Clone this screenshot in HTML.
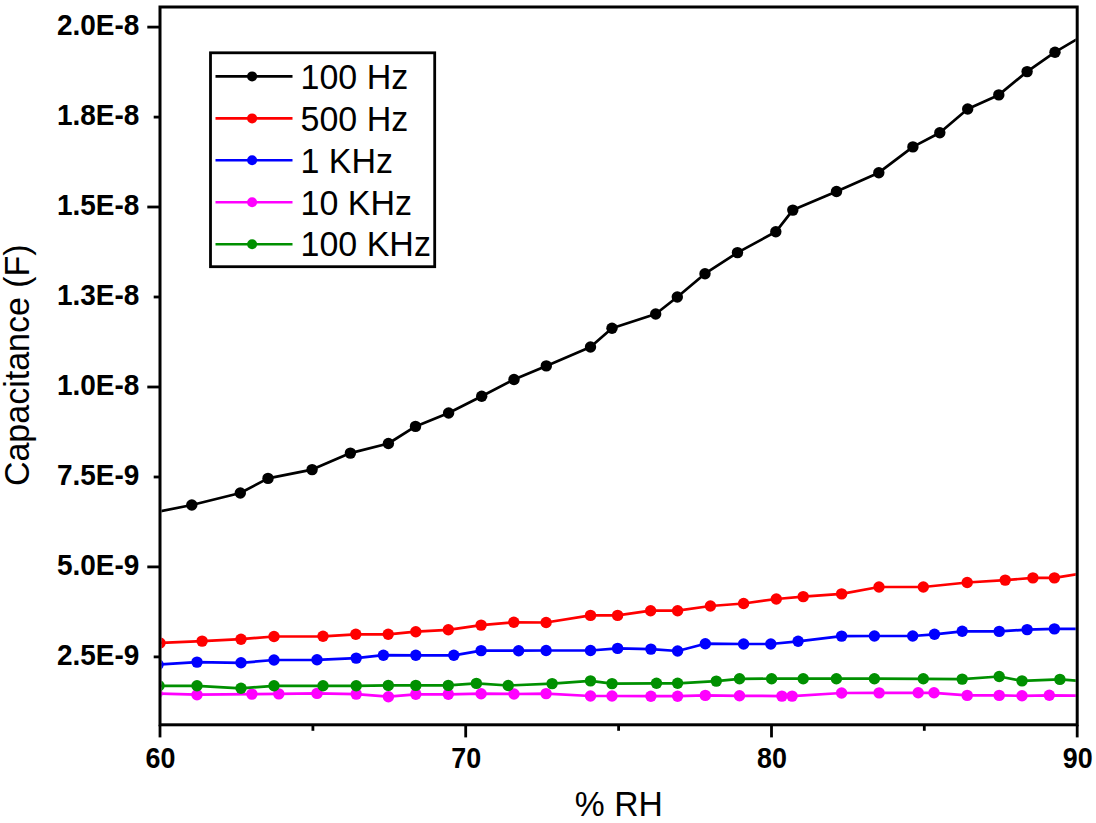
<!DOCTYPE html>
<html><head><meta charset="utf-8"><style>
html,body{margin:0;padding:0;background:#fff;overflow:hidden;}
svg{display:block;}
text{font-family:"Liberation Sans",sans-serif;fill:#000;}
.tl{font-size:28px;font-weight:bold;}
.lg{font-size:34px;}
.at{font-size:34px;}
</style></head><body>
<svg width="1096" height="823" viewBox="0 0 1096 823">
<defs><clipPath id="pc"><rect x="161.5" y="8.5" width="914.2" height="714.8"/></clipPath></defs>
<g clip-path="url(#pc)">
<polyline points="160.0,643.0 202.1,641.1 241.0,639.2 274.0,636.5 323.0,636.3 355.8,634.3 388.2,634.3 415.8,631.7 448.3,629.8 481.1,625.1 513.8,622.3 546.1,622.5 590.5,615.4 617.6,615.4 650.6,610.7 677.6,610.7 710.4,606.0 743.6,603.5 776.3,599.0 803.2,596.6 841.6,593.9 879.0,587.0 923.3,587.0 967.2,582.5 1005.2,580.1 1032.9,577.9 1054.4,577.9 1090.0,572.0" fill="none" stroke="#ff0000" stroke-width="2.7" stroke-linejoin="round"/>
<circle cx="160.0" cy="643.0" r="5.7" fill="#ff0000"/>
<circle cx="202.1" cy="641.1" r="5.7" fill="#ff0000"/>
<circle cx="241.0" cy="639.2" r="5.7" fill="#ff0000"/>
<circle cx="274.0" cy="636.5" r="5.7" fill="#ff0000"/>
<circle cx="323.0" cy="636.3" r="5.7" fill="#ff0000"/>
<circle cx="355.8" cy="634.3" r="5.7" fill="#ff0000"/>
<circle cx="388.2" cy="634.3" r="5.7" fill="#ff0000"/>
<circle cx="415.8" cy="631.7" r="5.7" fill="#ff0000"/>
<circle cx="448.3" cy="629.8" r="5.7" fill="#ff0000"/>
<circle cx="481.1" cy="625.1" r="5.7" fill="#ff0000"/>
<circle cx="513.8" cy="622.3" r="5.7" fill="#ff0000"/>
<circle cx="546.1" cy="622.5" r="5.7" fill="#ff0000"/>
<circle cx="590.5" cy="615.4" r="5.7" fill="#ff0000"/>
<circle cx="617.6" cy="615.4" r="5.7" fill="#ff0000"/>
<circle cx="650.6" cy="610.7" r="5.7" fill="#ff0000"/>
<circle cx="677.6" cy="610.7" r="5.7" fill="#ff0000"/>
<circle cx="710.4" cy="606.0" r="5.7" fill="#ff0000"/>
<circle cx="743.6" cy="603.5" r="5.7" fill="#ff0000"/>
<circle cx="776.3" cy="599.0" r="5.7" fill="#ff0000"/>
<circle cx="803.2" cy="596.6" r="5.7" fill="#ff0000"/>
<circle cx="841.6" cy="593.9" r="5.7" fill="#ff0000"/>
<circle cx="879.0" cy="587.0" r="5.7" fill="#ff0000"/>
<circle cx="923.3" cy="587.0" r="5.7" fill="#ff0000"/>
<circle cx="967.2" cy="582.5" r="5.7" fill="#ff0000"/>
<circle cx="1005.2" cy="580.1" r="5.7" fill="#ff0000"/>
<circle cx="1032.9" cy="577.9" r="5.7" fill="#ff0000"/>
<circle cx="1054.4" cy="577.9" r="5.7" fill="#ff0000"/>
<polyline points="158.0,664.6 197.0,662.1 241.0,662.8 274.0,660.0 317.0,659.8 356.2,658.1 383.4,655.2 415.8,655.3 453.8,655.3 481.1,650.6 518.6,650.7 546.1,650.5 590.5,650.5 617.6,648.4 650.9,649.1 677.6,651.0 705.3,643.7 743.6,644.0 770.8,644.0 798.1,641.3 841.6,636.1 874.4,636.0 912.7,636.0 934.5,634.3 962.2,631.3 999.2,631.4 1027.1,629.6 1054.4,628.9 1090.0,628.9" fill="none" stroke="#0000ff" stroke-width="2.7" stroke-linejoin="round"/>
<circle cx="158.0" cy="664.6" r="5.7" fill="#0000ff"/>
<circle cx="197.0" cy="662.1" r="5.7" fill="#0000ff"/>
<circle cx="241.0" cy="662.8" r="5.7" fill="#0000ff"/>
<circle cx="274.0" cy="660.0" r="5.7" fill="#0000ff"/>
<circle cx="317.0" cy="659.8" r="5.7" fill="#0000ff"/>
<circle cx="356.2" cy="658.1" r="5.7" fill="#0000ff"/>
<circle cx="383.4" cy="655.2" r="5.7" fill="#0000ff"/>
<circle cx="415.8" cy="655.3" r="5.7" fill="#0000ff"/>
<circle cx="453.8" cy="655.3" r="5.7" fill="#0000ff"/>
<circle cx="481.1" cy="650.6" r="5.7" fill="#0000ff"/>
<circle cx="518.6" cy="650.7" r="5.7" fill="#0000ff"/>
<circle cx="546.1" cy="650.5" r="5.7" fill="#0000ff"/>
<circle cx="590.5" cy="650.5" r="5.7" fill="#0000ff"/>
<circle cx="617.6" cy="648.4" r="5.7" fill="#0000ff"/>
<circle cx="650.9" cy="649.1" r="5.7" fill="#0000ff"/>
<circle cx="677.6" cy="651.0" r="5.7" fill="#0000ff"/>
<circle cx="705.3" cy="643.7" r="5.7" fill="#0000ff"/>
<circle cx="743.6" cy="644.0" r="5.7" fill="#0000ff"/>
<circle cx="770.8" cy="644.0" r="5.7" fill="#0000ff"/>
<circle cx="798.1" cy="641.3" r="5.7" fill="#0000ff"/>
<circle cx="841.6" cy="636.1" r="5.7" fill="#0000ff"/>
<circle cx="874.4" cy="636.0" r="5.7" fill="#0000ff"/>
<circle cx="912.7" cy="636.0" r="5.7" fill="#0000ff"/>
<circle cx="934.5" cy="634.3" r="5.7" fill="#0000ff"/>
<circle cx="962.2" cy="631.3" r="5.7" fill="#0000ff"/>
<circle cx="999.2" cy="631.4" r="5.7" fill="#0000ff"/>
<circle cx="1027.1" cy="629.6" r="5.7" fill="#0000ff"/>
<circle cx="1054.4" cy="628.9" r="5.7" fill="#0000ff"/>
<polyline points="157.0,693.5 197.0,694.7 251.9,694.1 278.8,693.9 317.0,693.4 356.2,694.1 388.4,696.7 415.8,694.3 448.3,694.3 481.1,693.7 514.0,694.0 546.1,693.6 590.5,696.0 612.0,696.0 650.9,696.2 677.6,696.2 705.3,695.4 739.5,695.8 781.9,696.1 792.1,696.1 841.6,693.0 879.1,692.9 918.2,692.8 934.0,692.8 967.2,695.4 999.2,695.4 1022.0,695.8 1049.3,695.3 1090.0,695.8" fill="none" stroke="#ff00ff" stroke-width="2.7" stroke-linejoin="round"/>
<circle cx="157.0" cy="693.5" r="5.7" fill="#ff00ff"/>
<circle cx="197.0" cy="694.7" r="5.7" fill="#ff00ff"/>
<circle cx="251.9" cy="694.1" r="5.7" fill="#ff00ff"/>
<circle cx="278.8" cy="693.9" r="5.7" fill="#ff00ff"/>
<circle cx="317.0" cy="693.4" r="5.7" fill="#ff00ff"/>
<circle cx="356.2" cy="694.1" r="5.7" fill="#ff00ff"/>
<circle cx="388.4" cy="696.7" r="5.7" fill="#ff00ff"/>
<circle cx="415.8" cy="694.3" r="5.7" fill="#ff00ff"/>
<circle cx="448.3" cy="694.3" r="5.7" fill="#ff00ff"/>
<circle cx="481.1" cy="693.7" r="5.7" fill="#ff00ff"/>
<circle cx="514.0" cy="694.0" r="5.7" fill="#ff00ff"/>
<circle cx="546.1" cy="693.6" r="5.7" fill="#ff00ff"/>
<circle cx="590.5" cy="696.0" r="5.7" fill="#ff00ff"/>
<circle cx="612.0" cy="696.0" r="5.7" fill="#ff00ff"/>
<circle cx="650.9" cy="696.2" r="5.7" fill="#ff00ff"/>
<circle cx="677.6" cy="696.2" r="5.7" fill="#ff00ff"/>
<circle cx="705.3" cy="695.4" r="5.7" fill="#ff00ff"/>
<circle cx="739.5" cy="695.8" r="5.7" fill="#ff00ff"/>
<circle cx="781.9" cy="696.1" r="5.7" fill="#ff00ff"/>
<circle cx="792.1" cy="696.1" r="5.7" fill="#ff00ff"/>
<circle cx="841.6" cy="693.0" r="5.7" fill="#ff00ff"/>
<circle cx="879.1" cy="692.9" r="5.7" fill="#ff00ff"/>
<circle cx="918.2" cy="692.8" r="5.7" fill="#ff00ff"/>
<circle cx="934.0" cy="692.8" r="5.7" fill="#ff00ff"/>
<circle cx="967.2" cy="695.4" r="5.7" fill="#ff00ff"/>
<circle cx="999.2" cy="695.4" r="5.7" fill="#ff00ff"/>
<circle cx="1022.0" cy="695.8" r="5.7" fill="#ff00ff"/>
<circle cx="1049.3" cy="695.3" r="5.7" fill="#ff00ff"/>
<polyline points="159.0,685.8 197.0,685.8 241.0,688.3 274.0,685.8 323.0,685.8 356.2,685.8 388.3,685.4 415.8,685.4 448.3,685.4 476.4,683.4 508.2,685.5 552.1,683.6 590.5,680.9 612.0,683.6 656.5,683.3 677.6,683.3 716.3,681.1 739.5,678.8 771.6,678.7 803.2,678.7 836.4,678.7 874.4,678.7 923.3,678.8 962.2,679.1 999.2,676.5 1022.0,680.9 1059.9,679.4 1090.0,681.5" fill="none" stroke="#009000" stroke-width="2.7" stroke-linejoin="round"/>
<circle cx="159.0" cy="685.8" r="5.7" fill="#009000"/>
<circle cx="197.0" cy="685.8" r="5.7" fill="#009000"/>
<circle cx="241.0" cy="688.3" r="5.7" fill="#009000"/>
<circle cx="274.0" cy="685.8" r="5.7" fill="#009000"/>
<circle cx="323.0" cy="685.8" r="5.7" fill="#009000"/>
<circle cx="356.2" cy="685.8" r="5.7" fill="#009000"/>
<circle cx="388.3" cy="685.4" r="5.7" fill="#009000"/>
<circle cx="415.8" cy="685.4" r="5.7" fill="#009000"/>
<circle cx="448.3" cy="685.4" r="5.7" fill="#009000"/>
<circle cx="476.4" cy="683.4" r="5.7" fill="#009000"/>
<circle cx="508.2" cy="685.5" r="5.7" fill="#009000"/>
<circle cx="552.1" cy="683.6" r="5.7" fill="#009000"/>
<circle cx="590.5" cy="680.9" r="5.7" fill="#009000"/>
<circle cx="612.0" cy="683.6" r="5.7" fill="#009000"/>
<circle cx="656.5" cy="683.3" r="5.7" fill="#009000"/>
<circle cx="677.6" cy="683.3" r="5.7" fill="#009000"/>
<circle cx="716.3" cy="681.1" r="5.7" fill="#009000"/>
<circle cx="739.5" cy="678.8" r="5.7" fill="#009000"/>
<circle cx="771.6" cy="678.7" r="5.7" fill="#009000"/>
<circle cx="803.2" cy="678.7" r="5.7" fill="#009000"/>
<circle cx="836.4" cy="678.7" r="5.7" fill="#009000"/>
<circle cx="874.4" cy="678.7" r="5.7" fill="#009000"/>
<circle cx="923.3" cy="678.8" r="5.7" fill="#009000"/>
<circle cx="962.2" cy="679.1" r="5.7" fill="#009000"/>
<circle cx="999.2" cy="676.5" r="5.7" fill="#009000"/>
<circle cx="1022.0" cy="680.9" r="5.7" fill="#009000"/>
<circle cx="1059.9" cy="679.4" r="5.7" fill="#009000"/>
<polyline points="150.0,513.3 191.8,505.0 240.3,493.0 268.0,478.4 312.1,469.6 350.4,453.1 388.4,443.5 415.5,426.4 448.6,413.0 481.7,396.2 514.0,379.5 546.3,365.9 590.5,347.0 612.0,328.3 655.7,314.0 677.3,297.0 705.0,273.7 737.5,252.6 775.8,231.8 792.8,210.1 836.5,191.5 878.8,172.7 912.9,146.9 939.8,132.7 967.7,109.0 998.8,94.9 1027.1,71.6 1055.0,52.2 1090.0,31.5" fill="none" stroke="#000000" stroke-width="2.7" stroke-linejoin="round"/>
<circle cx="191.8" cy="505.0" r="5.7" fill="#000000"/>
<circle cx="240.3" cy="493.0" r="5.7" fill="#000000"/>
<circle cx="268.0" cy="478.4" r="5.7" fill="#000000"/>
<circle cx="312.1" cy="469.6" r="5.7" fill="#000000"/>
<circle cx="350.4" cy="453.1" r="5.7" fill="#000000"/>
<circle cx="388.4" cy="443.5" r="5.7" fill="#000000"/>
<circle cx="415.5" cy="426.4" r="5.7" fill="#000000"/>
<circle cx="448.6" cy="413.0" r="5.7" fill="#000000"/>
<circle cx="481.7" cy="396.2" r="5.7" fill="#000000"/>
<circle cx="514.0" cy="379.5" r="5.7" fill="#000000"/>
<circle cx="546.3" cy="365.9" r="5.7" fill="#000000"/>
<circle cx="590.5" cy="347.0" r="5.7" fill="#000000"/>
<circle cx="612.0" cy="328.3" r="5.7" fill="#000000"/>
<circle cx="655.7" cy="314.0" r="5.7" fill="#000000"/>
<circle cx="677.3" cy="297.0" r="5.7" fill="#000000"/>
<circle cx="705.0" cy="273.7" r="5.7" fill="#000000"/>
<circle cx="737.5" cy="252.6" r="5.7" fill="#000000"/>
<circle cx="775.8" cy="231.8" r="5.7" fill="#000000"/>
<circle cx="792.8" cy="210.1" r="5.7" fill="#000000"/>
<circle cx="836.5" cy="191.5" r="5.7" fill="#000000"/>
<circle cx="878.8" cy="172.7" r="5.7" fill="#000000"/>
<circle cx="912.9" cy="146.9" r="5.7" fill="#000000"/>
<circle cx="939.8" cy="132.7" r="5.7" fill="#000000"/>
<circle cx="967.7" cy="109.0" r="5.7" fill="#000000"/>
<circle cx="998.8" cy="94.9" r="5.7" fill="#000000"/>
<circle cx="1027.1" cy="71.6" r="5.7" fill="#000000"/>
<circle cx="1055.0" cy="52.2" r="5.7" fill="#000000"/>
</g>
<rect x="160" y="7" width="917.2" height="717.8" fill="none" stroke="#000" stroke-width="3"/>
<line x1="147.3" y1="27.1" x2="160" y2="27.1" stroke="#000" stroke-width="2.8"/><line x1="153.7" y1="117.1" x2="160" y2="117.1" stroke="#000" stroke-width="2.8"/><line x1="147.3" y1="207.0" x2="160" y2="207.0" stroke="#000" stroke-width="2.8"/><line x1="153.7" y1="297.0" x2="160" y2="297.0" stroke="#000" stroke-width="2.8"/><line x1="147.3" y1="387.0" x2="160" y2="387.0" stroke="#000" stroke-width="2.8"/><line x1="153.7" y1="477.0" x2="160" y2="477.0" stroke="#000" stroke-width="2.8"/><line x1="147.3" y1="566.9" x2="160" y2="566.9" stroke="#000" stroke-width="2.8"/><line x1="153.7" y1="656.9" x2="160" y2="656.9" stroke="#000" stroke-width="2.8"/>
<line x1="160.0" y1="724.8" x2="160.0" y2="737.4" stroke="#000" stroke-width="2.8"/><line x1="312.9" y1="724.8" x2="312.9" y2="730.8" stroke="#000" stroke-width="2.8"/><line x1="465.7" y1="724.8" x2="465.7" y2="737.4" stroke="#000" stroke-width="2.8"/><line x1="618.6" y1="724.8" x2="618.6" y2="730.8" stroke="#000" stroke-width="2.8"/><line x1="771.5" y1="724.8" x2="771.5" y2="737.4" stroke="#000" stroke-width="2.8"/><line x1="924.3" y1="724.8" x2="924.3" y2="730.8" stroke="#000" stroke-width="2.8"/><line x1="1077.2" y1="724.8" x2="1077.2" y2="737.4" stroke="#000" stroke-width="2.8"/>
<text transform="translate(139.4,34.7) scale(1,1.04)" text-anchor="end" class="tl">2.0E-8</text><text transform="translate(139.4,124.7) scale(1,1.04)" text-anchor="end" class="tl">1.8E-8</text><text transform="translate(139.4,214.6) scale(1,1.04)" text-anchor="end" class="tl">1.5E-8</text><text transform="translate(139.4,304.6) scale(1,1.04)" text-anchor="end" class="tl">1.3E-8</text><text transform="translate(139.4,394.6) scale(1,1.04)" text-anchor="end" class="tl">1.0E-8</text><text transform="translate(139.4,484.6) scale(1,1.04)" text-anchor="end" class="tl">7.5E-9</text><text transform="translate(139.4,574.5) scale(1,1.04)" text-anchor="end" class="tl">5.0E-9</text><text transform="translate(139.4,664.5) scale(1,1.04)" text-anchor="end" class="tl">2.5E-9</text><text transform="translate(160.5,767.5) scale(0.96,1.06)" text-anchor="middle" class="tl">60</text><text transform="translate(466.2,767.5) scale(0.96,1.06)" text-anchor="middle" class="tl">70</text><text transform="translate(772.0,767.5) scale(0.96,1.06)" text-anchor="middle" class="tl">80</text><text transform="translate(1077.7,767.5) scale(0.96,1.06)" text-anchor="middle" class="tl">90</text>
<rect x="210.5" y="52.8" width="224.2" height="213.9" fill="#fff" stroke="#000" stroke-width="2.8"/>
<line x1="215.5" y1="76.4" x2="292.5" y2="76.4" stroke="#000000" stroke-width="2.6"/><circle cx="252.1" cy="76.4" r="5" fill="#000000"/><text transform="translate(300.5,88.8) scale(1,1.045)" class="lg">100 Hz</text><line x1="215.5" y1="118.4" x2="292.5" y2="118.4" stroke="#ff0000" stroke-width="2.6"/><circle cx="252.1" cy="118.4" r="5" fill="#ff0000"/><text transform="translate(300.5,130.7) scale(1,1.045)" class="lg">500 Hz</text><line x1="215.5" y1="160.3" x2="292.5" y2="160.3" stroke="#0000ff" stroke-width="2.6"/><circle cx="252.1" cy="160.3" r="5" fill="#0000ff"/><text transform="translate(300.5,172.6) scale(1,1.045)" class="lg">1 KHz</text><line x1="215.5" y1="202.2" x2="292.5" y2="202.2" stroke="#ff00ff" stroke-width="2.6"/><circle cx="252.1" cy="202.2" r="5" fill="#ff00ff"/><text transform="translate(300.5,214.5) scale(1,1.045)" class="lg">10 KHz</text><line x1="215.5" y1="244.2" x2="292.5" y2="244.2" stroke="#009000" stroke-width="2.6"/><circle cx="252.1" cy="244.2" r="5" fill="#009000"/><text transform="translate(300.5,256.4) scale(1,1.045)" class="lg">100 KHz</text>
<text transform="translate(618.8,816.3) scale(0.99,1.04)" text-anchor="middle" class="at">% RH</text>
<text transform="translate(28.8,365.2) rotate(-90) scale(1,1.03)" text-anchor="middle" class="at">Capacitance (F)</text>
</svg>
</body></html>
